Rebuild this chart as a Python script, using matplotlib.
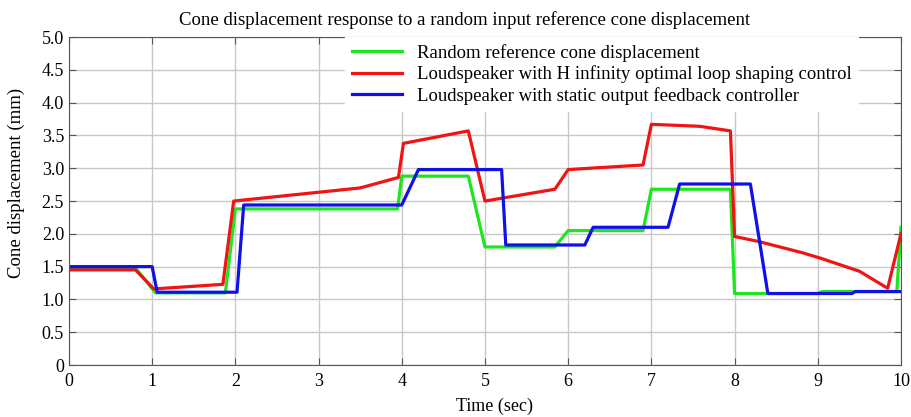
import matplotlib
matplotlib.use("Agg")
import matplotlib.pyplot as plt
from matplotlib.ticker import FuncFormatter

plt.rcParams['font.family'] = ['Liberation Serif', 'DejaVu Serif']

# Data
t_ref = [0, 0.8, 1.04, 1.88, 2.0, 3.95, 4.0, 4.8, 5.0, 5.84, 6.0, 6.9, 7.0, 7.95, 8.0, 9.0, 9.05, 9.95, 10.0]
y_ref = [1.48, 1.48, 1.1, 1.1, 2.38, 2.38, 2.88, 2.88, 1.8, 1.8, 2.05, 2.05, 2.68, 2.68, 1.09, 1.09, 1.12, 1.12, 2.1]

t_hinf = [0, 0.8, 1.02, 1.85, 1.98, 3.5, 3.96, 4.02, 4.8, 5.0, 5.84, 6.0, 6.9, 7.0, 7.58, 7.95, 8.0, 8.3, 8.82, 9.03, 9.5, 9.84, 10.0]
y_hinf = [1.45, 1.45, 1.16, 1.23, 2.5, 2.7, 2.86, 3.38, 3.57, 2.5, 2.68, 2.98, 3.05, 3.67, 3.64, 3.57, 1.96, 1.88, 1.71, 1.63, 1.43, 1.17, 2.0]

t_sof = [0, 1.0, 1.06, 2.02, 2.1, 4.0, 4.2, 5.2, 5.25, 6.2, 6.3, 7.2, 7.34, 8.19, 8.4, 9.41, 9.45, 10.0]
y_sof = [1.5, 1.5, 1.11, 1.11, 2.44, 2.44, 2.98, 2.98, 1.83, 1.83, 2.1, 2.1, 2.76, 2.76, 1.09, 1.09, 1.12, 1.12]

labels = ["Random reference cone displacement",
          "Loudspeaker with H infinity optimal loop shaping control",
          "Loudspeaker with static output feedback controller"]
colors = ["#1ee61e", "#f01414", "#1010e8"]

fig = plt.figure(figsize=(9.11, 4.17), dpi=100)
ax = fig.add_axes([0.0757, 0.1247, 0.9133, 0.7863])

ax.plot(t_ref, y_ref, color=colors[0], lw=2.3, label=labels[0])
ax.plot(t_hinf, y_hinf, color=colors[1], lw=2.3, label=labels[1])
ax.plot(t_sof, y_sof, color=colors[2], lw=2.3, label=labels[2])

ax.set_xlim(0, 10)
ax.set_ylim(0, 5)
ax.set_xticks(range(0, 11))
ax.set_yticks([i * 0.5 for i in range(11)])
ax.yaxis.set_major_formatter(FuncFormatter(lambda v, p: "0" if v == 0 else f"{v:.1f}"))
ax.tick_params(direction='in', top=True, right=True, labelsize=13, length=5, color='#555555')
ax.tick_params(axis='x', pad=6)
ax.grid(True, color='#c8c8c8', lw=1)
for s in ax.spines.values():
    s.set_color('#555555')

ax.set_xlabel("Time (sec)", fontsize=13, va='top')
ax.xaxis.set_label_coords(0.512, -0.1)
ax.set_ylabel("Cone displacement (mm)", fontsize=13.5)
ax.yaxis.set_label_coords(-0.053, 0.555)
ax.set_title("Cone displacement response to a random input reference cone displacement",
             fontsize=13.5, pad=9, x=0.476)

leg = ax.legend(loc='upper left', bbox_to_anchor=(0.332, 1.0), fontsize=13.5, frameon=True,
                fancybox=False, edgecolor='white', framealpha=1, handlelength=2.67,
                borderpad=0.35, labelspacing=0.2, handletextpad=0.8, borderaxespad=0.0)

fig.savefig("out.png", dpi=100)
